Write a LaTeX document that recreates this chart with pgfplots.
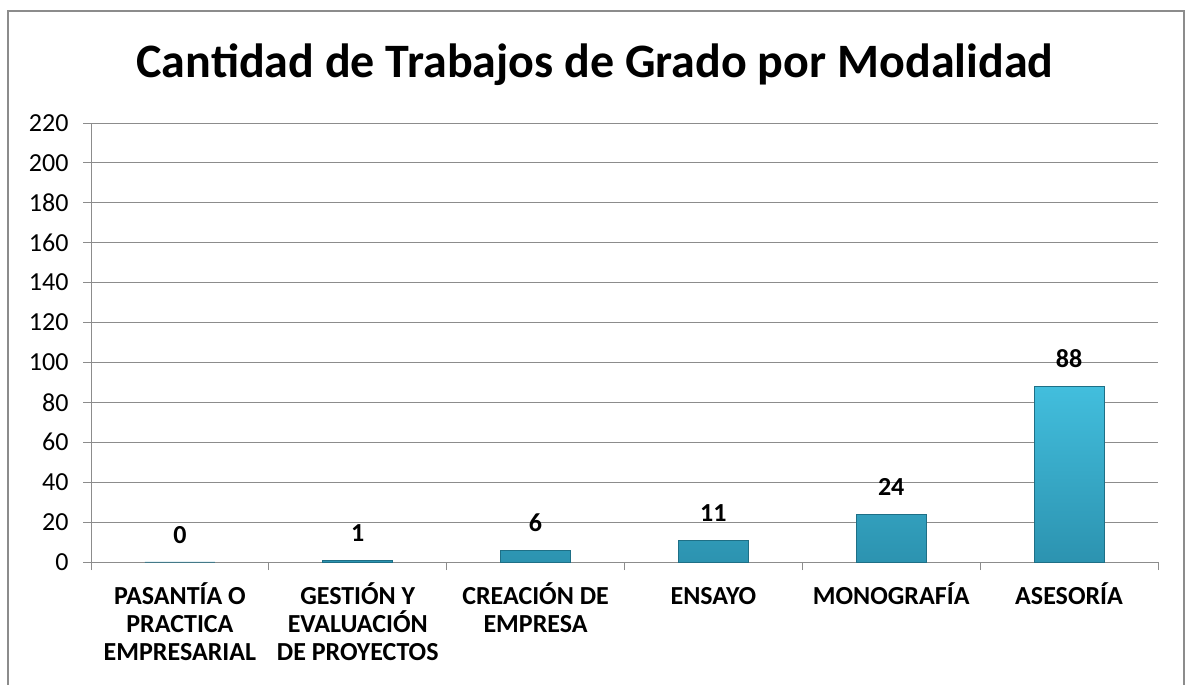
\documentclass[border=0pt]{standalone}
\usepackage{fontspec}
\setmainfont{Carlito}
\usepackage{pgfplots}
\pgfplotsset{compat=1.18}
\definecolor{gridg}{HTML}{8C8C8C}
\definecolor{frameg}{HTML}{8C8C8C}
\definecolor{bartop}{HTML}{42BEDD}
\definecolor{barbot}{HTML}{2C93B0}
\definecolor{baredge}{HTML}{1E6F86}
\begin{document}
\begin{tikzpicture}[x=1pt,y=1pt]
\useasboundingbox (0,0) rectangle (1189,685);
\begin{scope}
\clip (0,0) rectangle (1189,685);
\draw[frameg, line width=1.6pt] (8,674) rectangle (1184,-20);
\end{scope}
\node[font=\fontsize{48}{54}\selectfont\bfseries] at (595,620) {Cantidad de Trabajos de Grado por Modalidad};
\begin{axis}[
  at={(91pt,123pt)}, anchor=south west,
  scale only axis, width=1067pt, height=439pt,
  xmin=-0.5, xmax=5.5, ymin=0, ymax=220,
  ytick={0,20,...,220},
  xtick={0,1,2,3,4,5},
  xticklabels={{PASANTÍA O\\PRACTICA\\EMPRESARIAL},{GESTIÓN Y\\EVALUACIÓN\\DE PROYECTOS},{CREACIÓN DE\\EMPRESA},{ENSAYO\vphantom{Í}},{MONOGRAFÍA},{ASESORÍA}},
  xticklabel style={align=center, font=\fontsize{26}{28}\selectfont\bfseries, yshift=-9pt},
  yticklabel style={font=\fontsize{26}{28}\selectfont, xshift=-11pt},
  /pgf/number format/assume math mode=true,
  minor xtick={-0.5,0.5,...,5.5},
  major x tick style={draw=none},
  tick align=outside,
  major tick length=8pt, minor tick length=8pt,
  tick style={gridg, line width=0.9pt},
  axis x line*=bottom, axis y line*=left,
  axis line style={gridg, line width=0.9pt, -},
  ymajorgrids, grid style={gridg, line width=0.9pt},
  ybar, bar width=70pt, bar shift=0pt,
  nodes near coords,
  every node near coord/.append style={font=\fontsize{26}{28}\selectfont\bfseries, black, yshift=15pt},
  clip=false,
]
\addplot[draw=baredge, line width=0.6pt, top color=bartop, bottom color=barbot] coordinates {(0,0) (1,1) (2,6) (3,11) (4,24) (5,88)};
\end{axis}
\end{tikzpicture}
\end{document}
